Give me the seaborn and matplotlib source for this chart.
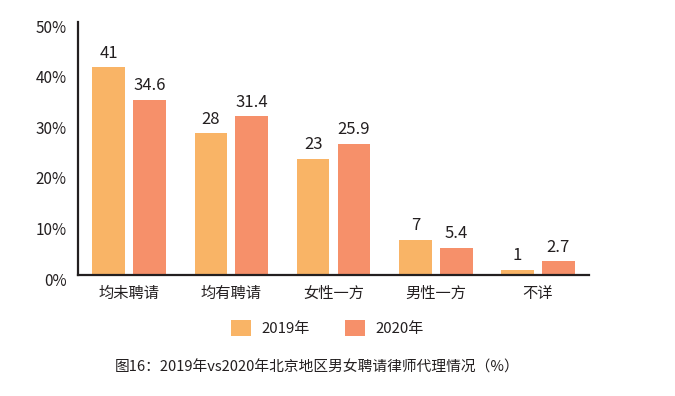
import pandas as pd
import seaborn as sns
import matplotlib.pyplot as plt
from matplotlib.transforms import ScaledTranslation

# ========== DATA ==========
categories = ["均未聘请", "均有聘请", "女性一方", "男性一方", "不详"]
years = ["2019年", "2020年"]
values_2019 = [41, 28, 23, 7, 1]
values_2020 = [34.6, 31.4, 25.9, 5.4, 2.7]
y_ticks = [0, 10, 20, 30, 40, 50]
caption = "图16：2019年vs2020年北京地区男女聘请律师代理情况（%）"

colors = ["#F9B466", "#F6906A"]
text_color = "#231F20"

df = pd.DataFrame({
    "类别": categories * 2,
    "年份": [years[0]] * len(categories) + [years[1]] * len(categories),
    "比例": values_2019 + values_2020,
})

# ========== PLOT ==========
sns.set_style("white")
plt.rcParams["font.family"] = ["Noto Sans CJK SC", "DejaVu Sans"]

fig = plt.figure(figsize=(6.75, 3.96), dpi=100)
ax = fig.add_axes([0.1156, 0.3056, 0.757, 0.639])

sns.barplot(data=df, x="类别", y="比例", hue="年份", palette=colors,
            width=0.8, gap=0.2, saturation=1, linewidth=0, ax=ax, legend=True)

for cont in ax.containers:
    labels = [f"{v:g}" for v in cont.datavalues]
    ax.bar_label(cont, labels=labels, padding=4, fontsize=12, color=text_color)

ax.set_xlim(-0.5, 4.5)
ax.set_ylim(0, 50)
ax.set_yticks(y_ticks)
ax.set_yticklabels([f"{t}%" for t in y_ticks])
ax.set_xlabel("")
ax.set_ylabel("")
ax.tick_params(axis="both", length=0, labelsize=11, colors=text_color)
ax.tick_params(axis="y", pad=8)
ax.tick_params(axis="x", pad=7)

# y labels sit a little below their gridline in the original
shift = ScaledTranslation(0, -3 / 72, fig.dpi_scale_trans)
for lbl in ax.get_yticklabels():
    lbl.set_transform(lbl.get_transform() + shift)

for side in ["top", "right"]:
    ax.spines[side].set_visible(False)
for side in ["left", "bottom"]:
    ax.spines[side].set_color("#231F20")
    ax.spines[side].set_linewidth(1.6)

handles, labels = ax.get_legend_handles_labels()
ax.legend_.remove()
fig.legend(handles, labels, loc="center", bbox_to_anchor=(0.485, 0.172), ncol=2,
           frameon=False, fontsize=10.8, handlelength=1.3, handleheight=1.3,
           handletextpad=0.7, columnspacing=2.4, labelcolor=text_color)

fig.text(0.47, 0.073, caption, ha="center", va="center", fontsize=10.6, color=text_color)

plt.savefig("out.png", dpi=100)
